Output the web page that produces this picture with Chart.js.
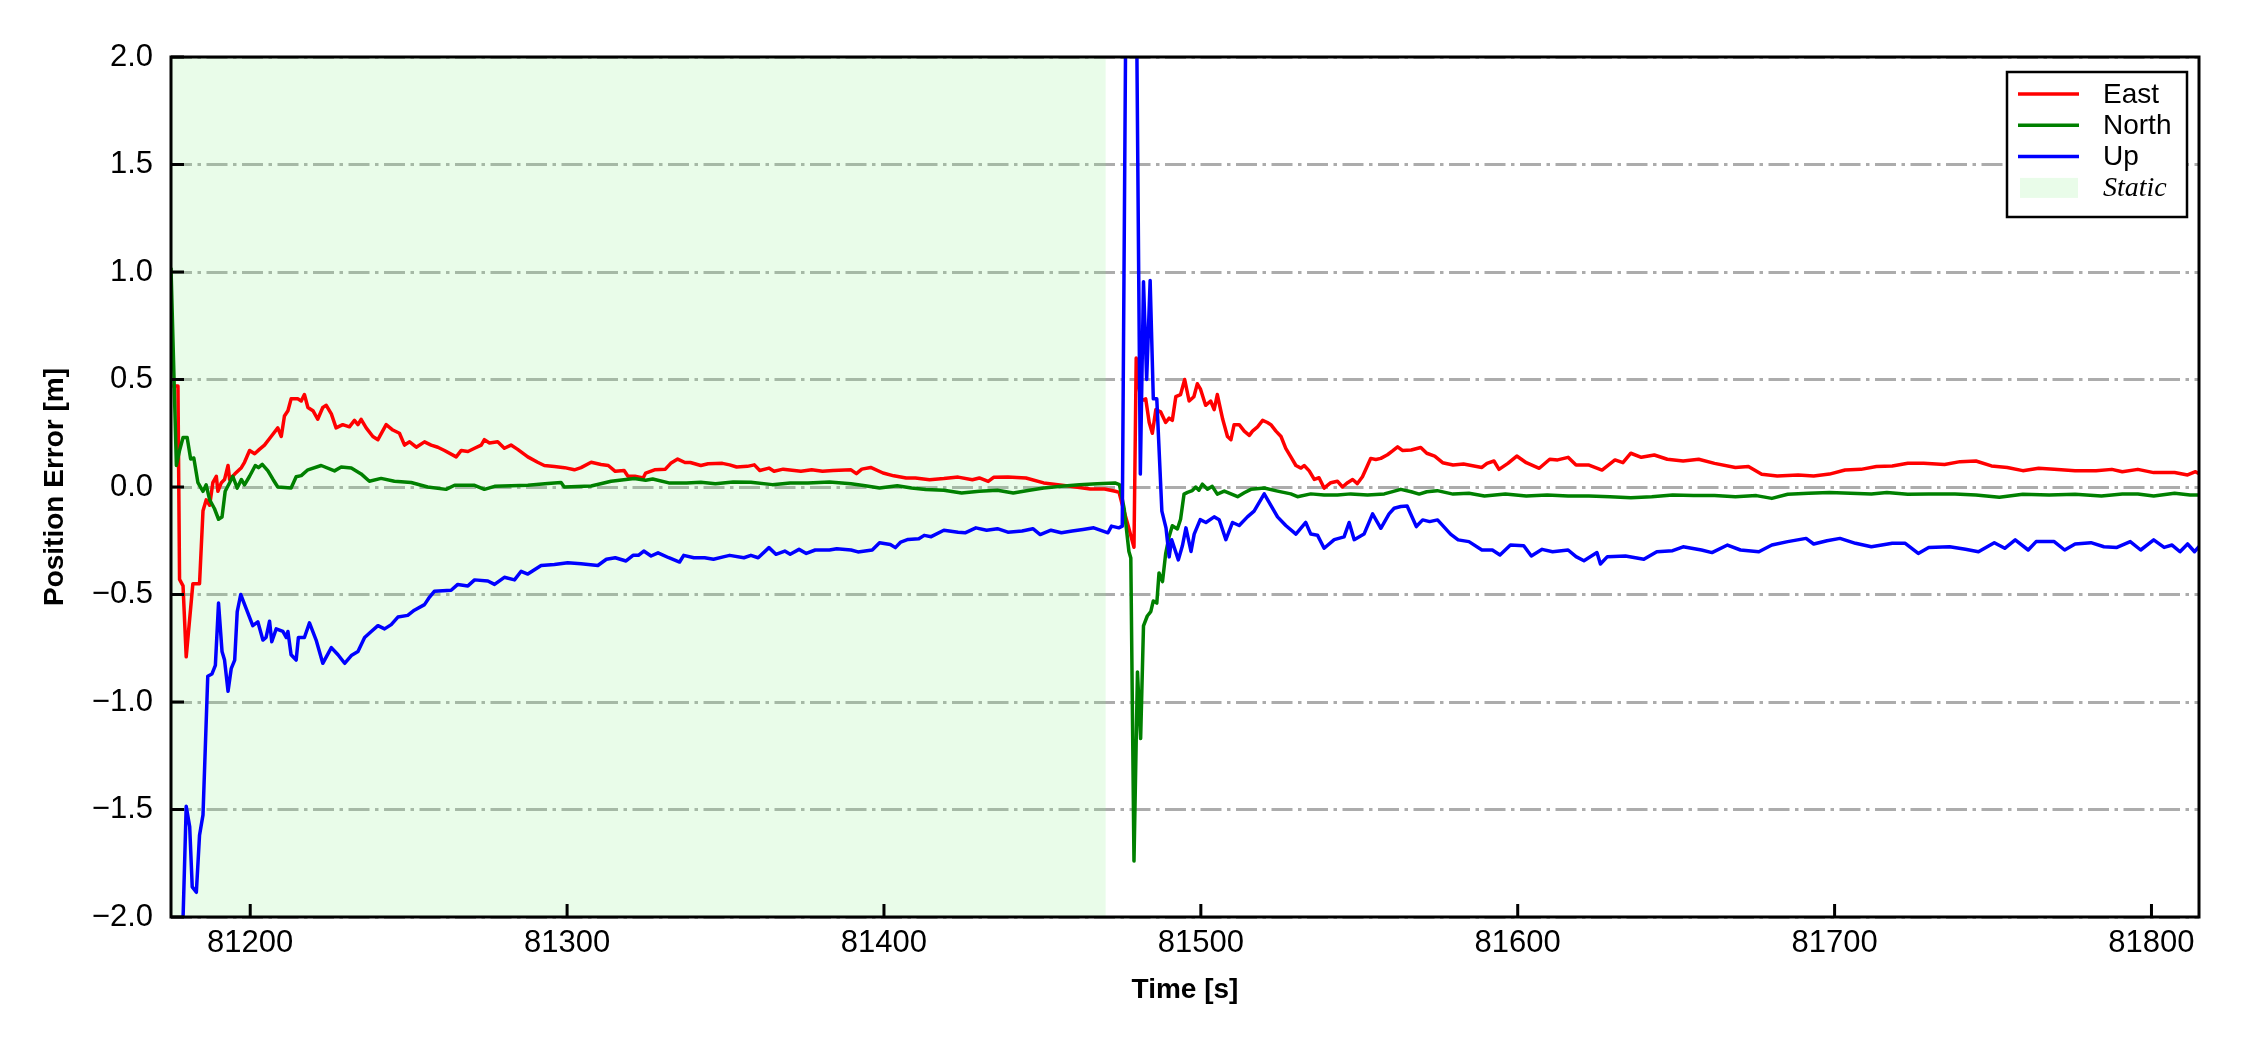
<!DOCTYPE html>
<html>
<head>
<meta charset="utf-8">
<script src="https://cdn.jsdelivr.net/npm/chart.js@4.4.1/dist/chart.umd.min.js"></script>
<style>
  body { margin: 0; background: #fff; }
  canvas { display: block; }
</style>
</head>
<body>
<canvas id="error__chart" width="2250" height="1050"></canvas>
<script>
// Axis limits and ticks
const timeRange = [81175, 81815];
const errorRange = [-2.0, 2.0];
const timeStep = 100;
const errorStep = 0.5;

// Static period (start / end time)
const staticSpan = [81175, 81470];

// East error
const eastTime = [
  81175.5, 81177.2, 81177.7, 81178.8, 81179.8, 81181.9, 81184.0, 81185.1, 81186.1, 81187.2,
  81188.2, 81189.3, 81189.8, 81190.9, 81191.9, 81193.0, 81193.5, 81195.1, 81197.2, 81198.2,
  81199.8, 81201.4, 81202.9, 81204.5, 81206.6, 81208.7, 81209.8, 81210.8, 81211.9, 81212.9,
  81215.0, 81216.1, 81217.1, 81218.2, 81219.8, 81221.3, 81222.9, 81224.0, 81225.6, 81227.1,
  81229.2, 81231.3, 81232.9, 81234.0, 81235.0, 81236.6, 81238.7, 81240.3, 81242.9, 81245.0,
  81247.1, 81248.7, 81250.3, 81252.4, 81255.0, 81257.1, 81259.2, 81261.3, 81265.0, 81266.6,
  81268.7, 81270.8, 81272.9, 81273.9, 81275.5, 81278.1, 81280.2, 81282.3, 81284.4, 81287.6,
  81290.7, 81292.8, 81296.0, 81299.2, 81302.3, 81304.4, 81307.6, 81310.7, 81313.0, 81315.2,
  81318.0, 81319.2, 81321.4, 81324.0, 81324.8, 81327.6, 81331.0, 81332.7, 81334.9, 81337.2,
  81338.9, 81342.2, 81344.5, 81349.0, 81351.3, 81353.5, 81356.9, 81359.1, 81360.8, 81363.7,
  81365.3, 81368.2, 81373.8, 81377.2, 81380.6, 81383.9, 81389.6, 81391.3, 81393.0, 81395.8,
  81399.7, 81403.1, 81407.0, 81409.9, 81414.4, 81418.9, 81423.4, 81427.9, 81430.1, 81432.9,
  81434.6, 81439.1, 81444.8, 81450.4, 81454.9, 81460.5, 81465.1, 81469.6, 81473.0, 81474.2,
  81475.2, 81476.8, 81478.9, 81479.6, 81481.0, 81482.6, 81483.7, 81484.7, 81485.8, 81487.3,
  81488.9, 81490.0, 81491.0, 81492.1, 81493.6, 81494.9, 81496.3, 81497.8, 81498.9, 81499.9,
  81501.5, 81503.1, 81504.2, 81505.2, 81506.9, 81508.4, 81509.5, 81510.5, 81512.1, 81513.7,
  81515.3, 81516.3, 81517.9, 81519.5, 81521.0, 81522.1, 81523.7, 81525.3, 81526.8, 81528.4,
  81530.0, 81531.6, 81532.6, 81534.2, 81535.8, 81537.3, 81538.9, 81541.0, 81543.1, 81544.7,
  81546.3, 81547.9, 81549.4, 81551.0, 81552.6, 81553.6, 81555.2, 81556.8, 81558.9, 81560.5,
  81562.1, 81563.6, 81566.4, 81569.4, 81571.3, 81573.8, 81576.3, 81579.6, 81582.9, 81586.2,
  81588.7, 81590.3, 81592.5, 81594.1, 81596.9, 81599.7, 81602.7, 81606.8, 81610.1, 81612.6,
  81615.9, 81618.4, 81622.5, 81626.6, 81630.7, 81633.2, 81635.7, 81639.0, 81643.1, 81647.2,
  81652.2, 81657.1, 81662.1, 81668.7, 81672.8, 81677.0, 81681.9, 81688.5, 81693.4, 81698.4,
  81703.3, 81708.3, 81713.2, 81718.2, 81723.1, 81728.1, 81734.7, 81739.6, 81744.6, 81749.5,
  81754.5, 81759.4, 81764.4, 81769.3, 81775.9, 81782.5, 81787.5, 81790.8, 81795.7, 81800.7,
  81807.3, 81811.4, 81813.9, 81815.2
];
const eastError = [
  0.47, 0.47, -0.43, -0.46, -0.79, -0.45, -0.45, -0.11, -0.06, -0.085,
  0.02, 0.05, -0.02, 0.02, 0.035, 0.10, 0.035, 0.06, 0.09, 0.115,
  0.17, 0.155, 0.175, 0.195, 0.235, 0.275, 0.235, 0.33, 0.355, 0.41,
  0.41, 0.40, 0.43, 0.37, 0.355, 0.315, 0.37, 0.38, 0.34, 0.275,
  0.29, 0.28, 0.31, 0.29, 0.315, 0.275, 0.235, 0.22, 0.29, 0.265,
  0.25, 0.195, 0.21, 0.185, 0.21, 0.195, 0.185, 0.17, 0.14, 0.17,
  0.165, 0.18, 0.195, 0.22, 0.205, 0.21, 0.18, 0.195, 0.175, 0.14,
  0.115, 0.10, 0.095, 0.09, 0.08, 0.09, 0.115, 0.105, 0.10, 0.073,
  0.077, 0.05, 0.05, 0.042, 0.065, 0.08, 0.083, 0.11, 0.13, 0.114,
  0.114, 0.10, 0.108, 0.11, 0.103, 0.093, 0.096, 0.103, 0.077, 0.088,
  0.073, 0.083, 0.073, 0.08, 0.073, 0.077, 0.08, 0.062, 0.083, 0.091,
  0.065, 0.052, 0.042, 0.042, 0.034, 0.039, 0.046, 0.034, 0.042, 0.026,
  0.045, 0.046, 0.042, 0.019, 0.011, 0.0, -0.009, -0.009, -0.02, -0.025,
  -0.083, -0.166, -0.28, 0.60, 0.40, 0.41, 0.30, 0.25, 0.36, 0.35,
  0.30, 0.32, 0.31, 0.42, 0.43, 0.50, 0.40, 0.42, 0.48, 0.455,
  0.38, 0.40, 0.36, 0.43, 0.315, 0.235, 0.22, 0.29, 0.29, 0.26,
  0.24, 0.26, 0.28, 0.31, 0.30, 0.29, 0.26, 0.235, 0.18, 0.14,
  0.10, 0.088, 0.10, 0.075, 0.035, 0.043, -0.005, 0.02, 0.027, 0.0,
  0.02, 0.035, 0.016, 0.048, 0.10, 0.133, 0.128, 0.133, 0.15, 0.168,
  0.187, 0.17, 0.172, 0.184, 0.157, 0.144, 0.113, 0.102, 0.107, 0.098,
  0.091, 0.11, 0.121, 0.082, 0.11, 0.144, 0.113, 0.087, 0.129, 0.126,
  0.138, 0.102, 0.102, 0.079, 0.126, 0.113, 0.157, 0.138, 0.149, 0.129,
  0.121, 0.129, 0.11, 0.091, 0.095, 0.059, 0.051, 0.056, 0.051, 0.06,
  0.079, 0.082, 0.095, 0.098, 0.11, 0.11, 0.105, 0.118, 0.121, 0.098,
  0.091, 0.076, 0.087, 0.082, 0.076, 0.076, 0.082, 0.071, 0.082, 0.067,
  0.067, 0.056, 0.071, 0.06
];

// North error
const northTime = [
  81175.0, 81176.7, 81177.7, 81178.8, 81180.1, 81181.2, 81182.2, 81183.5, 81185.1, 81186.1,
  81187.2, 81188.7, 81190.0, 81191.1, 81192.1, 81193.5, 81194.5, 81195.9, 81197.2, 81198.2,
  81199.8, 81201.6, 81202.6, 81203.8, 81205.6, 81207.2, 81208.7, 81212.9, 81214.5, 81216.1,
  81218.2, 81222.4, 81226.6, 81228.7, 81231.9, 81235.0, 81237.6, 81241.3, 81245.5, 81250.8,
  81256.0, 81261.8, 81264.5, 81270.8, 81273.9, 81277.1, 81287.6, 81293.9, 81298.1, 81299.1,
  81307.6, 81313.9, 81321.2, 81324.8, 81327.0, 81332.1, 81337.7, 81342.2, 81346.8, 81352.4,
  81358.0, 81364.8, 81370.4, 81376.0, 81382.8, 81389.6, 81394.1, 81398.6, 81404.2, 81408.7,
  81413.2, 81418.9, 81424.5, 81430.1, 81435.8, 81440.8, 81445.9, 81450.4, 81456.0, 81461.7,
  81467.3, 81472.9, 81474.3, 81475.8, 81477.3, 81477.9, 81478.9, 81480.0, 81481.0, 81481.9,
  81483.1, 81484.2, 81485.0, 81486.1, 81486.8, 81487.9, 81488.9, 81490.0, 81491.0, 81492.6,
  81493.6, 81494.7, 81495.8, 81497.3, 81498.4, 81499.4, 81500.5, 81502.1, 81503.6, 81505.2,
  81507.4, 81509.5, 81511.6, 81513.7, 81515.8, 81520.0, 81524.2, 81528.4, 81530.5, 81534.7,
  81538.9, 81543.1, 81547.3, 81552.6, 81557.9, 81563.1, 81566.4, 81568.9, 81571.3, 81574.6,
  81579.6, 81584.6, 81589.5, 81596.1, 81602.7, 81609.3, 81615.9, 81622.5, 81629.1, 81635.7,
  81642.3, 81648.9, 81655.5, 81662.1, 81668.7, 81675.3, 81680.2, 81685.2, 81691.8, 81698.4,
  81705.0, 81711.6, 81716.5, 81723.1, 81729.7, 81738.0, 81744.6, 81752.0, 81759.4, 81767.7,
  81775.9, 81784.2, 81790.8, 81795.7, 81800.7, 81807.3, 81812.2, 81815.2
];
const northError = [
  1.02, 0.10, 0.17, 0.23, 0.23, 0.13, 0.135, 0.02, -0.02, 0.01,
  -0.06, -0.10, -0.15, -0.14, -0.02, 0.02, 0.05, -0.005, 0.035, 0.01,
  0.05, 0.10, 0.09, 0.105, 0.075, 0.035, 0.0, -0.005, 0.048, 0.053,
  0.08, 0.10, 0.075, 0.093, 0.088, 0.061, 0.027, 0.04, 0.027, 0.021,
  0.0, -0.011, 0.008, 0.008, -0.011, 0.003, 0.008, 0.016, 0.021, 0.0,
  0.005, 0.027, 0.04, 0.031, 0.037, 0.019, 0.019, 0.022, 0.015, 0.023,
  0.022, 0.011, 0.019, 0.019, 0.023, 0.015, 0.006, -0.005, 0.006, -0.005,
  -0.012, -0.015, -0.028, -0.02, -0.015, -0.028, -0.015, -0.005, 0.003, 0.011,
  0.015, 0.019, 0.011, -0.10, -0.30, -0.33, -1.74, -0.86, -1.17, -0.646,
  -0.60, -0.58, -0.53, -0.54, -0.40, -0.44, -0.31, -0.23, -0.18, -0.195,
  -0.15, -0.033, -0.025, -0.017, 0.0, -0.015, 0.013, -0.01, 0.003, -0.033,
  -0.019, -0.032, -0.045, -0.027, -0.011, -0.005, -0.019, -0.032, -0.045, -0.032,
  -0.037, -0.037, -0.032, -0.037, -0.032, -0.011, -0.022, -0.033, -0.022, -0.017,
  -0.033, -0.029, -0.042, -0.033, -0.042, -0.037, -0.042, -0.042, -0.045, -0.05,
  -0.045, -0.037, -0.04, -0.04, -0.045, -0.04, -0.053, -0.034, -0.029, -0.026,
  -0.029, -0.033, -0.026, -0.034, -0.033, -0.033, -0.037, -0.048, -0.034, -0.037,
  -0.034, -0.042, -0.033, -0.033, -0.042, -0.029, -0.037, -0.037
];

// Up error
const upTime = [
  81175.0, 81179.8, 81180.9, 81181.7, 81183.0, 81184.0, 81185.1, 81186.6, 81187.9, 81189.0,
  81190.0, 81191.1, 81191.9, 81193.0, 81194.0, 81195.1, 81195.9, 81197.0, 81198.7, 81200.8,
  81202.4, 81204.0, 81205.0, 81206.1, 81206.8, 81208.2, 81210.3, 81211.4, 81211.9, 81212.9,
  81214.5, 81215.2, 81217.1, 81218.7, 81220.8, 81222.9, 81225.6, 81227.7, 81229.8, 81231.9,
  81234.0, 81236.1, 81238.2, 81240.3, 81242.4, 81244.5, 81246.6, 81249.7, 81251.8, 81255.0,
  81256.6, 81258.1, 81263.4, 81265.5, 81268.7, 81270.8, 81275.0, 81277.1, 81280.2, 81283.4,
  81285.5, 81287.6, 81291.8, 81296.0, 81300.2, 81304.4, 81309.7, 81312.4, 81315.2, 81318.6,
  81320.8, 81322.5, 81324.2, 81326.5, 81328.7, 81332.1, 81335.5, 81336.8, 81340.0, 81343.4,
  81346.2, 81349.6, 81351.3, 81355.8, 81358.0, 81360.3, 81363.7, 81365.9, 81368.7, 81370.4,
  81373.2, 81375.5, 81378.3, 81382.8, 81385.1, 81389.6, 81391.8, 81396.3, 81398.6, 81402.0,
  81403.6, 81405.3, 81407.6, 81411.0, 81412.7, 81414.9, 81418.9, 81423.4, 81425.6, 81429.0,
  81432.4, 81435.8, 81439.1, 81443.6, 81447.0, 81449.3, 81452.7, 81456.0, 81459.4, 81462.8,
  81466.2, 81470.7, 81471.8, 81474.1, 81475.2, 81476.5, 81479.5, 81480.9, 81481.9, 81482.9,
  81484.0, 81485.0, 81486.1, 81487.7, 81489.0, 81490.0, 81490.8, 81492.9, 81494.2, 81495.3,
  81496.9, 81497.9, 81499.8, 81501.6, 81504.2, 81505.8, 81507.9, 81510.0, 81512.1, 81514.7,
  81516.8, 81520.0, 81522.1, 81524.2, 81526.8, 81530.0, 81533.1, 81534.7, 81536.8, 81538.9,
  81542.1, 81545.2, 81546.8, 81548.4, 81551.5, 81554.2, 81556.8, 81559.4, 81561.0, 81563.1,
  81565.1, 81568.0, 81570.0, 81572.2, 81574.7, 81578.8, 81581.2, 81584.6, 81588.7, 81592.0,
  81594.4, 81597.7, 81601.9, 81604.3, 81607.7, 81611.0, 81615.9, 81618.4, 81620.9, 81625.0,
  81626.1, 81628.3, 81634.0, 81639.8, 81643.9, 81648.9, 81652.2, 81658.0, 81661.3, 81666.2,
  81670.3, 81676.1, 81680.2, 81685.2, 81691.0, 81693.4, 81697.6, 81701.7, 81706.6, 81711.6,
  81718.2, 81722.3, 81726.4, 81729.7, 81736.3, 81741.3, 81745.4, 81750.4, 81753.7, 81757.0,
  81761.1, 81763.6, 81769.3, 81772.6, 81775.9, 81780.9, 81785.0, 81789.1, 81793.3, 81796.6,
  81800.7, 81804.0, 81806.5, 81809.0, 81811.4, 81813.6, 81815.2
];
const upError = [
  -4.0, -1.485, -1.58, -1.86, -1.885, -1.62, -1.525, -0.88, -0.87, -0.83,
  -0.54, -0.765, -0.805, -0.95, -0.845, -0.805, -0.58, -0.50, -0.565, -0.645,
  -0.627, -0.712, -0.70, -0.624, -0.72, -0.66, -0.672, -0.70, -0.672, -0.78,
  -0.805, -0.70, -0.70, -0.632, -0.712, -0.82, -0.747, -0.78, -0.82, -0.784,
  -0.765, -0.70, -0.672, -0.645, -0.66, -0.64, -0.605, -0.597, -0.573, -0.547,
  -0.512, -0.485, -0.48, -0.453, -0.46, -0.432, -0.437, -0.453, -0.42, -0.432,
  -0.392, -0.405, -0.365, -0.36, -0.352, -0.357, -0.365, -0.336, -0.329, -0.344,
  -0.318, -0.318, -0.298, -0.321, -0.306, -0.329, -0.349, -0.318, -0.329, -0.329,
  -0.336, -0.324, -0.318, -0.329, -0.318, -0.329, -0.282, -0.313, -0.298, -0.313,
  -0.29, -0.309, -0.293, -0.293, -0.287, -0.293, -0.302, -0.293, -0.259, -0.267,
  -0.282, -0.256, -0.244, -0.241, -0.225, -0.231, -0.201, -0.21, -0.213, -0.19,
  -0.201, -0.194, -0.21, -0.205, -0.194, -0.221, -0.201, -0.213, -0.205, -0.198,
  -0.19, -0.213, -0.182, -0.19, -0.182, 2.6, 2.6, 0.06, 0.955, 0.50,
  0.96, 0.41, 0.41, -0.112, -0.19, -0.325, -0.245, -0.339, -0.272, -0.19,
  -0.30, -0.219, -0.152, -0.165, -0.139, -0.152, -0.245, -0.165, -0.179, -0.139,
  -0.112, -0.032, -0.085, -0.139, -0.179, -0.219, -0.165, -0.219, -0.224, -0.285,
  -0.245, -0.232, -0.165, -0.245, -0.219, -0.125, -0.192, -0.125, -0.099, -0.091,
  -0.088, -0.184, -0.153, -0.161, -0.153, -0.219, -0.246, -0.254, -0.293, -0.293,
  -0.316, -0.27, -0.273, -0.321, -0.29, -0.301, -0.293, -0.324, -0.343, -0.305,
  -0.358, -0.324, -0.321, -0.336, -0.301, -0.296, -0.278, -0.293, -0.305, -0.27,
  -0.293, -0.301, -0.27, -0.254, -0.239, -0.265, -0.25, -0.239, -0.262, -0.278,
  -0.262, -0.262, -0.309, -0.281, -0.278, -0.29, -0.301, -0.259, -0.285, -0.246,
  -0.293, -0.254, -0.254, -0.293, -0.265, -0.259, -0.278, -0.281, -0.254, -0.293,
  -0.246, -0.281, -0.27, -0.301, -0.265, -0.301, -0.274
];

// Turn the time / value arrays into {x, y} points
function toPoints(times, values) {
  return times.map((t, i) => ({ x: t, y: values[i] }));
}

// Minus sign like the original plot
function formatError(value) {
  return value.toFixed(1).replace('-', '\u2212');
}

// Frame, inward tick marks and the legend box inside the plot
const framePlugin = {
  id: 'frame',
  afterDraw(chart) {
    const { ctx, chartArea: area, scales: { x, y } } = chart;
    ctx.save();
    ctx.strokeStyle = '#000';
    ctx.lineWidth = 3;
    ctx.beginPath();
    x.ticks.forEach(tick => {
      const px = x.getPixelForValue(tick.value);
      ctx.moveTo(px, area.bottom);
      ctx.lineTo(px, area.bottom - 13);
    });
    y.ticks.forEach(tick => {
      const py = y.getPixelForValue(tick.value);
      ctx.moveTo(area.left, py);
      ctx.lineTo(area.left + 13, py);
    });
    ctx.stroke();
    ctx.strokeRect(area.left, area.top, area.right - area.left, area.bottom - area.top);

    // Legend
    const boxW = 180, boxH = 145;
    const boxX = area.right - 12 - boxW, boxY = area.top + 15;
    ctx.fillStyle = '#fff';
    ctx.fillRect(boxX, boxY, boxW, boxH);
    ctx.lineWidth = 2.5;
    ctx.strokeRect(boxX, boxY, boxW, boxH);
    ctx.textBaseline = 'middle';
    ctx.textAlign = 'left';
    chart.data.datasets.forEach((ds, i) => {
      const cy = boxY + 22 + i * 31.3;
      if (ds.fill) {
        ctx.fillStyle = ds.backgroundColor;
        ctx.fillRect(boxX + 13, cy - 10, 58, 20);
        ctx.font = 'italic 28px "Liberation Serif", "Times New Roman", serif';
      } else {
        ctx.strokeStyle = ds.borderColor;
        ctx.lineWidth = 3.5;
        ctx.beginPath();
        ctx.moveTo(boxX + 11, cy);
        ctx.lineTo(boxX + 72, cy);
        ctx.stroke();
        ctx.font = '28px "Liberation Sans", Arial, sans-serif';
      }
      ctx.fillStyle = '#000';
      ctx.fillText(ds.label, boxX + 96, cy + 1);
    });
    ctx.restore();
  }
};

Chart.defaults.font.family = '"Liberation Sans", Arial, sans-serif';
Chart.defaults.color = '#000';

const ctx = document.getElementById('error__chart').getContext('2d');
const errorChart = new Chart(ctx, {
  type: 'line',
  data: {
    datasets: [
      {
        label: 'East',
        data: toPoints(eastTime, eastError),
        borderColor: '#ff0000',
        borderWidth: 3.5,
        order: 3
      },
      {
        label: 'North',
        data: toPoints(northTime, northError),
        borderColor: '#008000',
        borderWidth: 3.5,
        order: 2
      },
      {
        label: 'Up',
        data: toPoints(upTime, upError),
        borderColor: '#0000ff',
        borderWidth: 3.5,
        order: 1
      },
      {
        label: 'Static',
        data: staticSpan.map(t => ({ x: t, y: errorRange[1] })),
        borderWidth: 0,
        backgroundColor: 'rgba(144, 238, 144, 0.2)',
        fill: 'start',
        order: 10
      }
    ]
  },
  options: {
    responsive: false,
    animation: false,
    layout: { padding: { top: 57, right: 51, bottom: 0, left: 0 } },
    elements: {
      point: { radius: 0, hoverRadius: 0 },
      line: { tension: 0, borderJoinStyle: 'round' }
    },
    plugins: {
      legend: { display: false },
      tooltip: { enabled: false }
    },
    scales: {
      x: {
        type: 'linear',
        min: timeRange[0],
        max: timeRange[1],
        afterFit: scale => { scale.height = 133; },
        grid: { display: false, drawTicks: false },
        border: { display: false },
        ticks: {
          stepSize: timeStep,
          includeBounds: false,
          autoSkip: false,
          maxRotation: 0,
          padding: 8,
          font: { size: 31 },
          color: '#000',
          callback: value => String(value)
        },
        title: {
          display: true,
          text: 'Time [s]',
          font: { size: 28, weight: 'bold' },
          color: '#000',
          padding: { top: 0, bottom: 43 }
        }
      },
      y: {
        type: 'linear',
        min: errorRange[0],
        max: errorRange[1],
        afterFit: scale => { scale.width = 171; },
        grid: { color: '#acacac', lineWidth: 3, drawTicks: false },
        border: { display: false, dash: [21, 5.5, 3.5, 5.5] },
        ticks: {
          stepSize: errorStep,
          padding: 18,
          font: { size: 31 },
          color: '#000',
          callback: value => formatError(value)
        },
        title: {
          display: true,
          text: 'Position Error [m]',
          font: { size: 28, weight: 'bold' },
          color: '#000',
          padding: { top: 38, bottom: 0 }
        }
      }
    }
  },
  plugins: [framePlugin]
});
</script>
</body>
</html>
